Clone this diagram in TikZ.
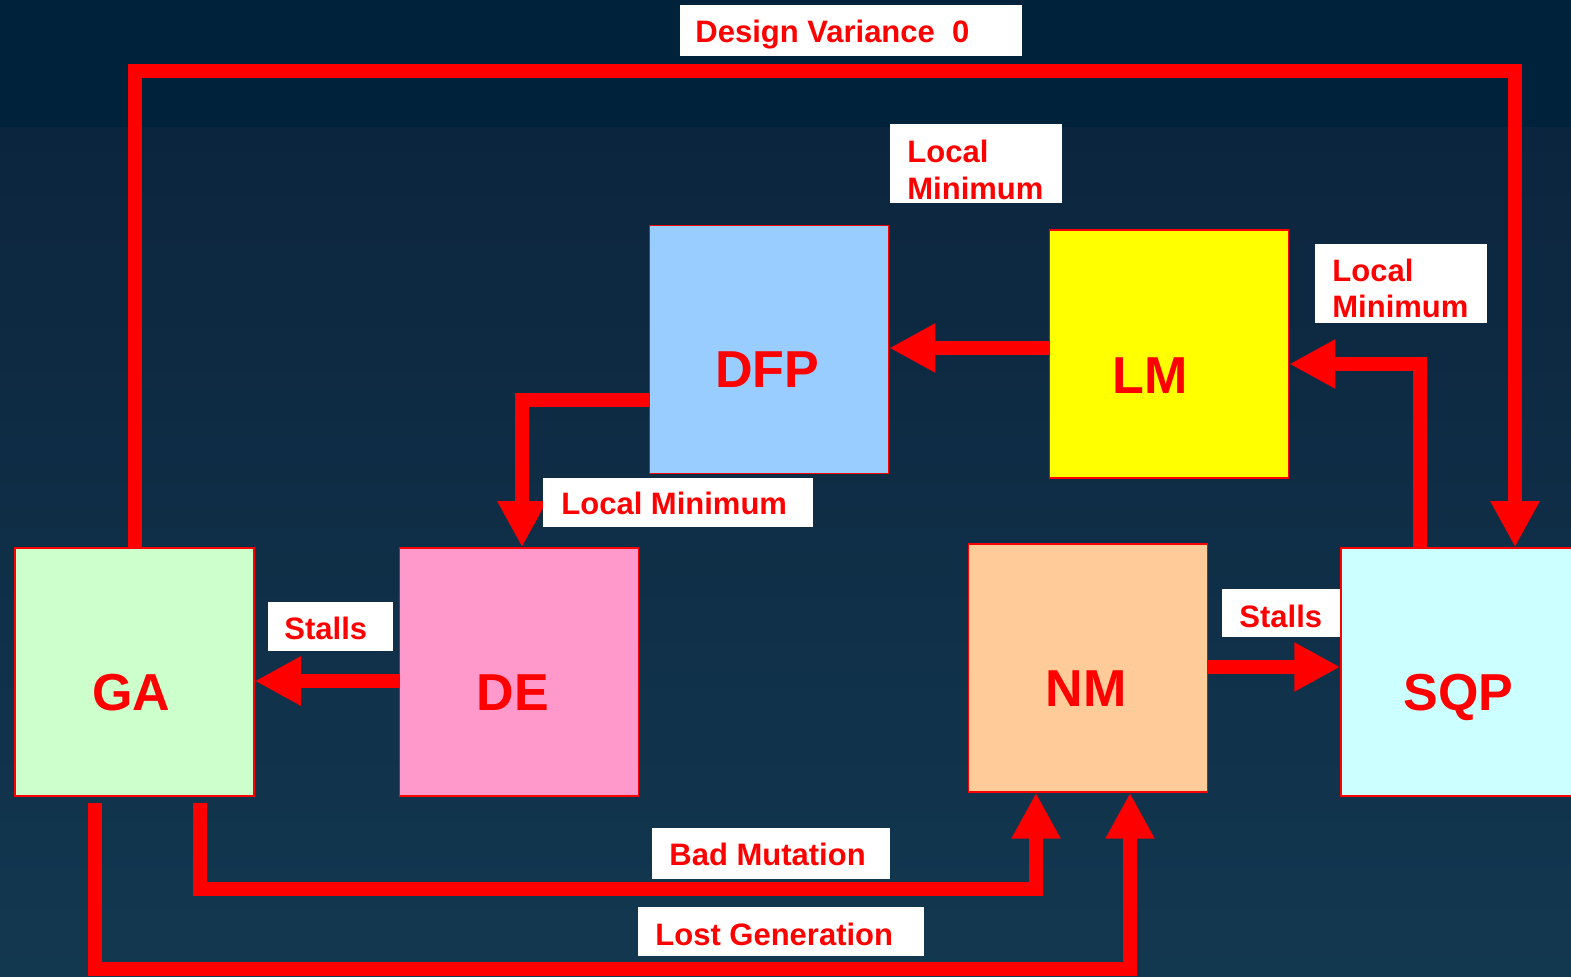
\documentclass[tikz,border=0pt]{standalone}
\usepackage{fontspec}
\setmainfont{Liberation Sans}
\usetikzlibrary{arrows.meta,calc}
\definecolor{bgtop}{RGB}{0,34,58}
\definecolor{bgmid}{RGB}{12,37,62}
\definecolor{bgbot}{RGB}{18,56,80}
\definecolor{gaf}{RGB}{204,255,204}
\definecolor{def}{RGB}{255,153,204}
\definecolor{nmf}{RGB}{255,204,153}
\definecolor{sqpf}{RGB}{204,255,255}
\definecolor{dfpf}{RGB}{153,204,255}
\definecolor{lmf}{RGB}{255,255,0}
\begin{document}
\begin{tikzpicture}[x=0.5pt,y=-0.5pt,
  box/.style={draw=red, line width=0.75pt, minimum width=119.5pt, minimum height=124pt, inner sep=0pt},
  boxtxt/.style={text=red, font=\bfseries\fontsize{26}{30}\selectfont, anchor=base, inner sep=0pt},
  lblbox/.style={fill=white, inner sep=0pt, draw=none},
  lbltxt/.style={text=red, font=\bfseries\fontsize{15.5}{18}\selectfont, anchor=base west, inner sep=0pt},
  conn/.style={draw=red, line width=7pt, line join=miter, -{Triangle[length=23pt,width=23pt]}}]
\useasboundingbox (0,0) rectangle (1571,977);
% background
\fill[bgtop] (0,0) rectangle (1571,128);
\shade[top color=bgmid, bottom color=bgbot] (0,128) rectangle (1571,977);

% boxes
\node[box, fill=gaf] (ga) at (134.5,672) {};
\node[box, fill=def] (de) at (519,672) {};
\node[box, fill=nmf] (nm) at (1088,668) {};
\node[box, fill=sqpf] (sqp) at (1460.5,672) {};
\node[box, fill=dfpf] (dfp) at (769,349.5) {};
\node[box, fill=lmf] (lm) at (1169,354) {};

\node[boxtxt] (gat) at ($(ga.center)+(-3,39)$) {GA};
\node[boxtxt] (det) at ($(de.center)+(-6,39)$) {DE};
\node[boxtxt] (nmt) at ($(nm.center)+(-2,39)$) {NM};
\node[boxtxt] (sqpt) at ($(sqp.center)+(-2,39)$) {SQP};
\node[boxtxt] (dfpt) at ($(dfp.center)+(-2,38)$) {DFP};
\node[boxtxt] (lmt) at ($(lm.center)+(-19,40)$) {LM};

% connectors
\coordinate (k1) at (1515,71);
\draw[conn] (ga.north) |- (k1) -- (k1 |- sqp.north);

\coordinate (k2) at (1050,348);
\draw[conn] (k2 -| lm.west) -- (k2 -| dfp.east);

\coordinate (k3) at (522,400);
\draw[conn] (k3 -| dfp.west) -| (k3 |- de.north);

\coordinate (k4) at (400,681);
\draw[conn] (k4 -| de.west) -- (k4 -| ga.east);

\coordinate (k5) at (1207,667);
\draw[conn] (k5 -| nm.east) -- (k5 -| sqp.west);

\coordinate (k6) at (1420,364);
\draw[conn] (k6 |- sqp.north) |- (k6 -| lm.east);

\coordinate (k7) at (200,889);
\coordinate (k7b) at (1036,889);
\draw[conn] ($(k7 |- ga.south)+(0,6)$) -- (k7) -- (k7b) -- (k7b |- nm.south);

\coordinate (k8) at (95,969);
\coordinate (k8b) at (1130,969);
\draw[conn] ($(k8 |- ga.south)+(0,6)$) -- (k8) -- (k8b) -- (k8b |- nm.south);

% labels
\node[lblbox, minimum width=171pt, minimum height=25.5pt] (b1) at (851,30.5) {};
\node[lbltxt] (t1) at (695,43) {Design Variance\ \ 0};

\node[lblbox, minimum width=86pt, minimum height=39.5pt] (b2) at (976,163.5) {};
\node[lbltxt] (t2a) at (907,163) {Local};
\node[lbltxt] (t2b) at (907,200) {Minimum};

\node[lblbox, minimum width=86pt, minimum height=39.5pt] (b3) at (1401,283.5) {};
\node[lbltxt] (t3a) at (1332,282) {Local};
\node[lbltxt] (t3b) at (1332,318) {Minimum};

\node[lblbox, minimum width=135pt, minimum height=24.5pt] (b4) at (678,502.5) {};
\node[lbltxt] (t4) at (561,515) {Local Minimum};

\node[lblbox, minimum width=62.5pt, minimum height=24.5pt] (b5) at (330.5,626.5) {};
\node[lbltxt] (t5) at (284,640) {Stalls};

\node[lblbox, minimum width=59pt, minimum height=24pt] (b6) at (1281,613) {};
\node[lbltxt] (t6) at (1239,628) {Stalls};

\node[lblbox, minimum width=119pt, minimum height=25.5pt] (b7) at (771,853.5) {};
\node[lbltxt] (t7) at (669,866) {Bad Mutation};

\node[lblbox, minimum width=143pt, minimum height=24.5pt] (b8) at (781,931.5) {};
\node[lbltxt] (t8) at (655,946) {Lost Generation};
\end{tikzpicture}
\end{document}
